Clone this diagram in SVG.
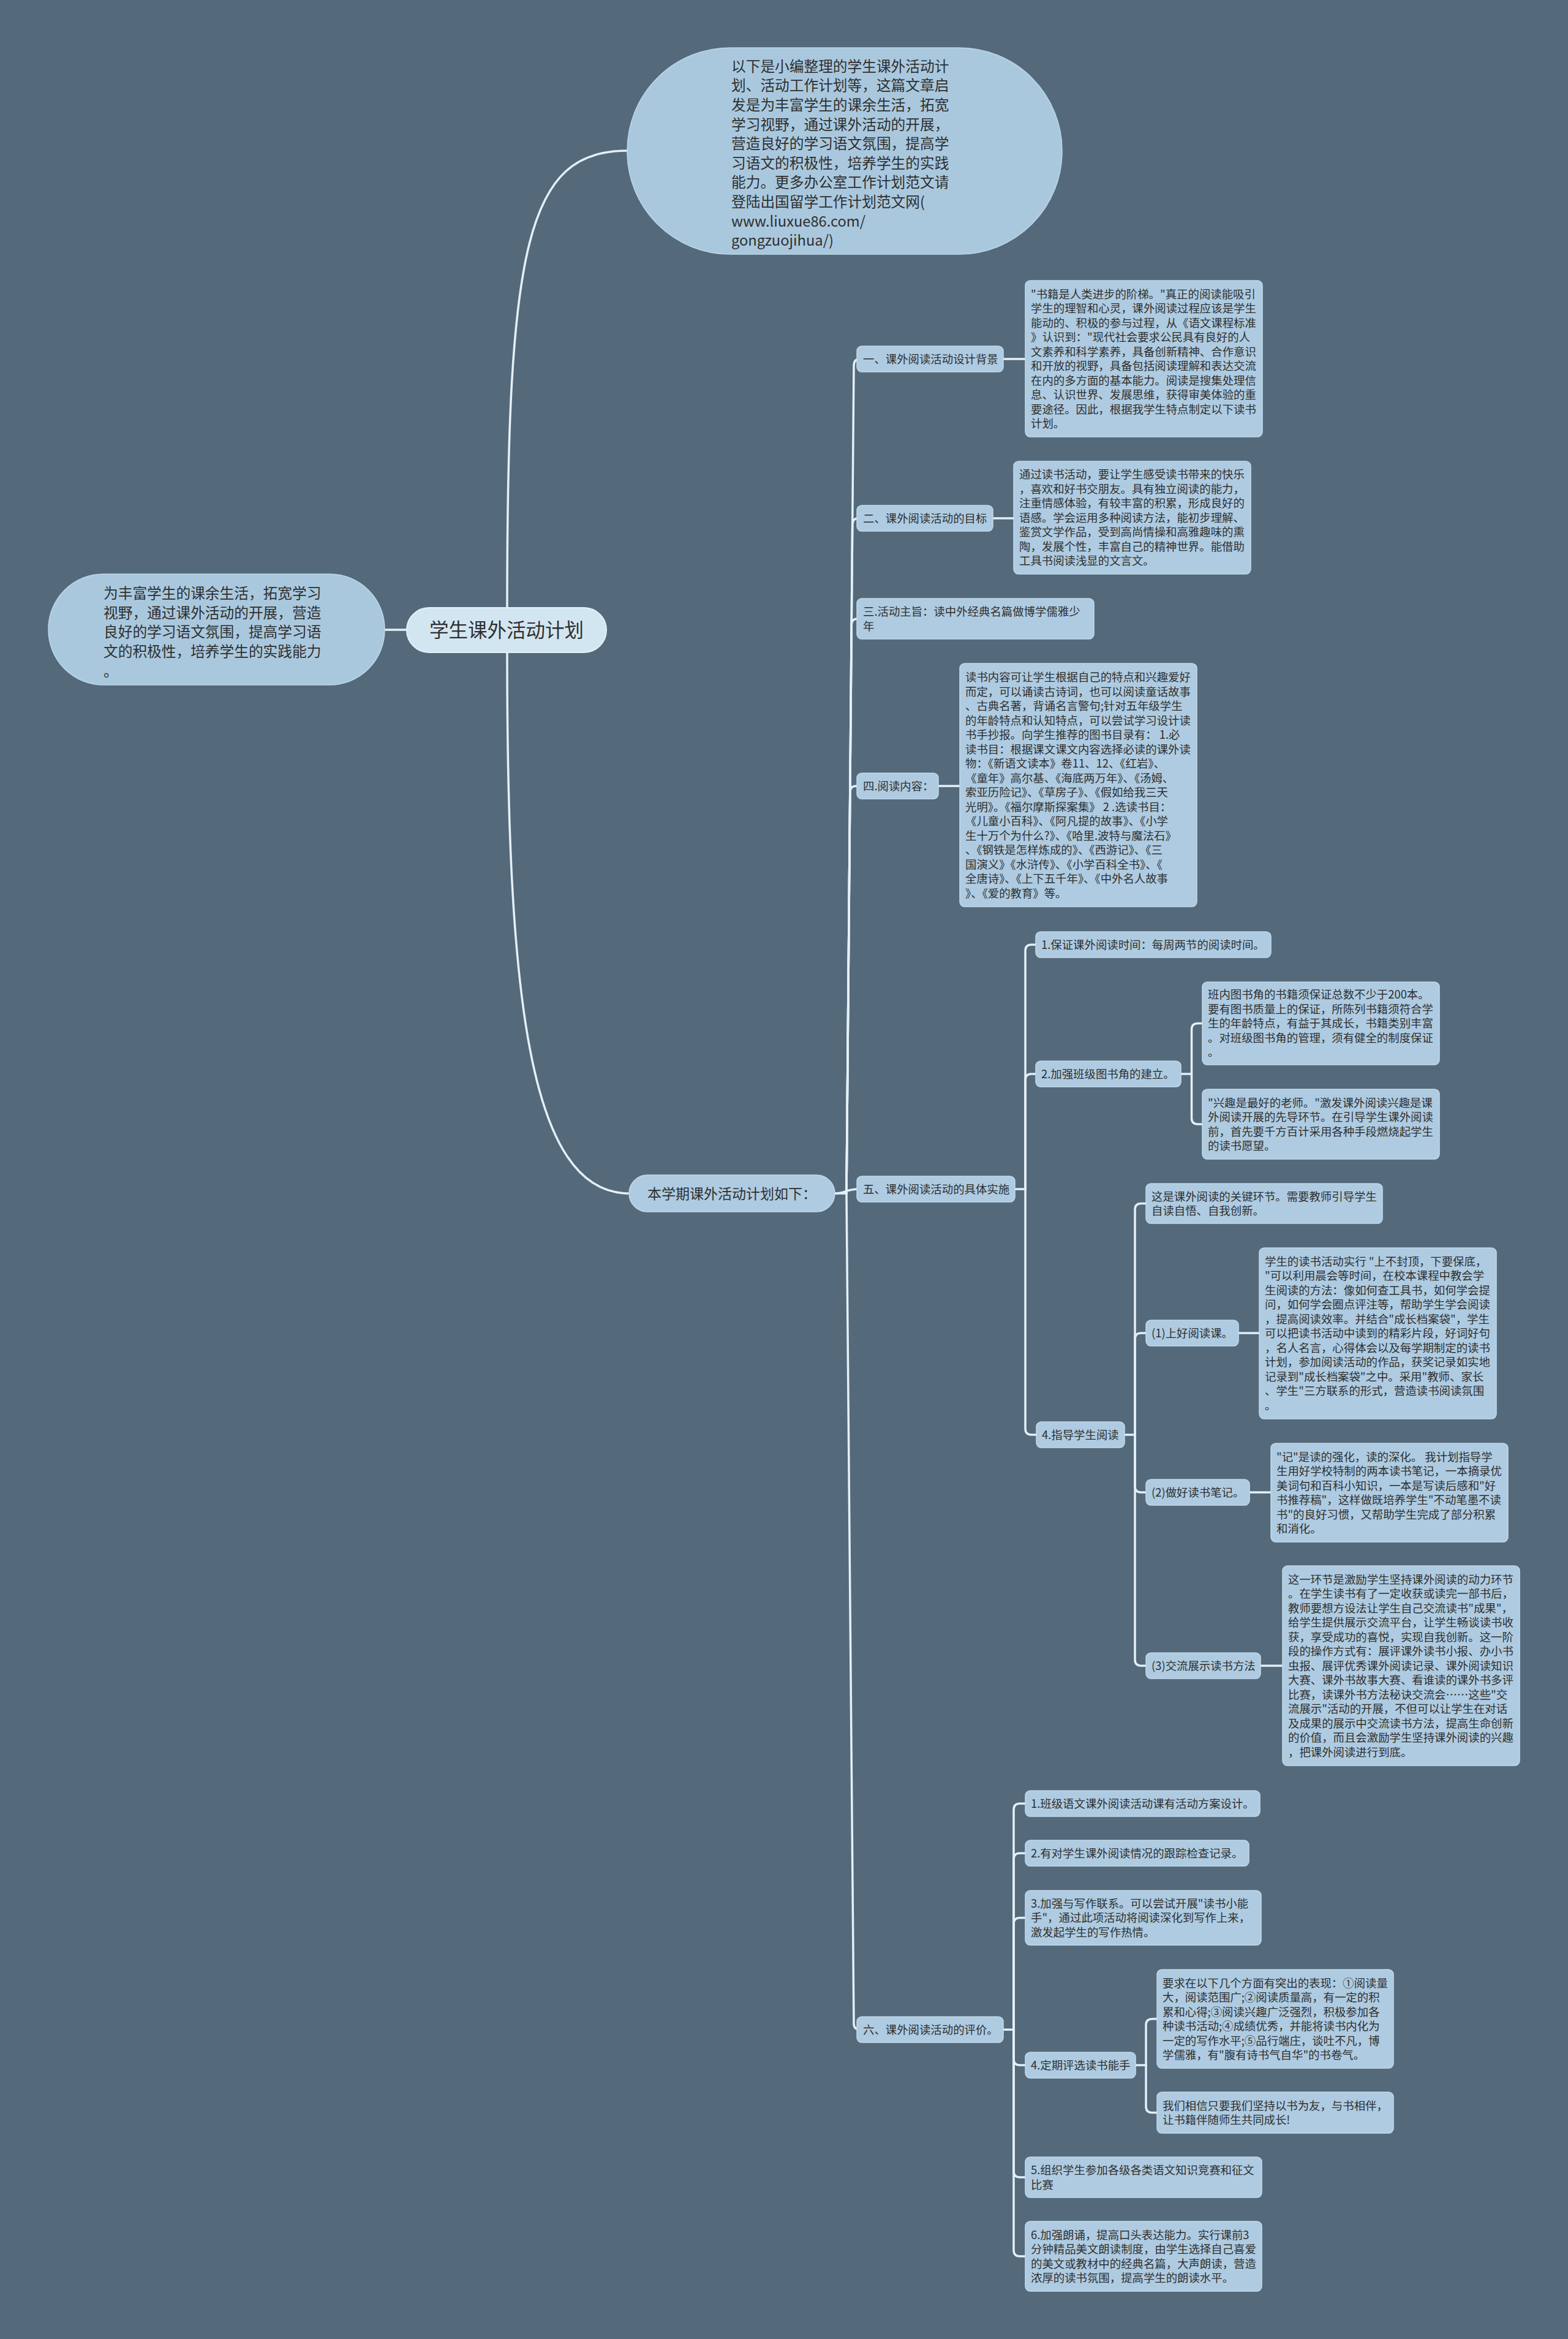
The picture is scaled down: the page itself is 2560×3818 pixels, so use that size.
<svg xmlns="http://www.w3.org/2000/svg" width="2560" height="3818" viewBox="0 0 2560 3818">
<style>
.c{fill:none;stroke:#e4f0f8;stroke-width:3.5;stroke-linecap:round}
.box{fill:#aecbe1;stroke:#c2d9ea;stroke-width:1.5}
.bub{fill:#a9c8de;stroke:#bcd6e8;stroke-width:1.5}
.root{fill:#d2e6f2;stroke:#e3f0f8;stroke-width:2}
text{font-family:"Noto Sans CJK SC","Noto Sans",sans-serif;fill:#2f2f2f}
.s{font-size:18.4px}
.m{font-size:23.7px}
</style>
<rect width="2560" height="3818" fill="#546a7b"/>
<g id="connectors">
<path class="c" d="M628 1028 H664"/>
<path class="c" d="M828 992 C828 400 860 246 1024 246"/>
<path class="c" d="M828 1065 C828 1620 862 1948 1027 1948"/>
<path class="c" d="M1363 1948 H1382"/>
<path class="c" d="M1382 1948 L1394 597 Q1394 586 1404 586"/>
<path class="c" d="M1382 1948 L1391.7 856 Q1391.8 846 1401.8 846"/>
<path class="c" d="M1382 1948 L1390.2 1020 Q1390.3 1010 1400.3 1010"/>
<path class="c" d="M1382 1948 L1387.8 1293 Q1387.9 1283 1397.9 1283 H1401"/>
<path class="c" d="M1363 1948 C1380 1948 1382 1941 1401 1941"/>
<path class="c" d="M1382 1948 L1394 3303 Q1394 3313 1404 3313"/>
<path class="c" d="M1638 586 H1674"/>
<path class="c" d="M1621 846 H1655"/>
<path class="c" d="M1532 1283 H1567"/>
<path class="c" d="M1657 1941 H1674"/>
<path class="c" d="M1674 1941 V1552 Q1674 1542 1684 1542 H1692"/>
<path class="c" d="M1674 1941 V1763 Q1674 1753 1684 1753 H1692"/>
<path class="c" d="M1674 1941 V2332 Q1674 2342 1684 2342 H1693"/>
<path class="c" d="M1928 1753 H1945.5"/>
<path class="c" d="M1945.5 1753 V1680.5 Q1945.5 1670.5 1955.5 1670.5 H1964"/>
<path class="c" d="M1945.5 1753 V1825 Q1945.5 1835 1955.5 1835 H1964"/>
<path class="c" d="M1836 2342 H1853"/>
<path class="c" d="M1853 2342 V1974.5 Q1853 1964.5 1863 1964.5 H1872"/>
<path class="c" d="M1853 2342 V2186 Q1853 2176 1863 2176 H1872"/>
<path class="c" d="M1853 2342 V2426 Q1853 2436 1863 2436 H1872"/>
<path class="c" d="M1853 2342 V2709 Q1853 2719 1863 2719 H1872"/>
<path class="c" d="M2022 2176 H2056"/>
<path class="c" d="M2040 2436 H2075"/>
<path class="c" d="M2058 2719 H2094"/>
<path class="c" d="M1638 3313 H1655"/>
<path class="c" d="M1655 3313 V2954 Q1655 2944 1665 2944 H1675"/>
<path class="c" d="M1655 3313 V3035 Q1655 3025 1665 3025 H1675"/>
<path class="c" d="M1655 3313 V3140.5 Q1655 3130.5 1665 3130.5 H1675"/>
<path class="c" d="M1655 3313 V3361 Q1655 3371 1665 3371 H1675"/>
<path class="c" d="M1655 3313 V3544 Q1655 3554 1665 3554 H1675"/>
<path class="c" d="M1655 3313 V3673 Q1655 3683 1665 3683 H1675"/>
<path class="c" d="M1854 3371 H1871"/>
<path class="c" d="M1871 3371 V3305.5 Q1871 3295.5 1881 3295.5 H1890"/>
<path class="c" d="M1871 3371 V3438.5 Q1871 3448.5 1881 3448.5 H1890"/>
</g>

<g id="n-root">
<rect class="root" x="664" y="992" width="326" height="73" rx="36.5"/>
<text x="827" y="1040" font-size="31.5" text-anchor="middle">学生课外活动计划</text>
</g>

<g id="n-left">
<rect class="bub" x="79" y="937" width="549" height="181" rx="90"/>
<text class="m" x="169" y="976.8"><tspan x="169">为丰富学生的课余生活，拓宽学习</tspan><tspan x="169" dy="31.7">视野，通过课外活动的开展，营造</tspan><tspan x="169" dy="31.7">良好的学习语文氛围，提高学习语</tspan><tspan x="169" dy="31.7">文的积极性，培养学生的实践能力</tspan><tspan x="169" dy="31.7">。</tspan></text>
</g>

<g id="n-intro">
<rect class="bub" x="1024" y="78" width="710" height="337" rx="168"/>
<text class="m" x="1194" y="116.8"><tspan x="1194">以下是小编整理的学生课外活动计</tspan><tspan x="1194" dy="31.6">划、活动工作计划等，这篇文章启</tspan><tspan x="1194" dy="31.6">发是为丰富学生的课余生活，拓宽</tspan><tspan x="1194" dy="31.6">学习视野，通过课外活动的开展，</tspan><tspan x="1194" dy="31.6">营造良好的学习语文氛围，提高学</tspan><tspan x="1194" dy="31.6">习语文的积极性，培养学生的实践</tspan><tspan x="1194" dy="31.6">能力。更多办公室工作计划范文请</tspan><tspan x="1194" dy="31.6">登陆出国留学工作计划范文网(</tspan><tspan x="1194" dy="31.6">www.liuxue86.com/</tspan><tspan x="1194" dy="31.6">gongzuojihua/)</tspan></text>
</g>

<g id="n-plan">
<rect class="box" x="1027" y="1918" width="336" height="60" rx="30"/>
<text x="1195" y="1956.5" font-size="23" text-anchor="middle">本学期课外活动计划如下：</text>
</g>

<g id="n-s1">
<rect class="box" x="1399" y="565" width="239" height="42" rx="8"/>
<text class="s" x="1409" y="592.8">一、课外阅读活动设计背景</text>
</g>
<g id="n-s1d">
<rect class="box" x="1674" y="458" width="387" height="255" rx="8"/>
<text class="s" x="1683" y="486.5"><tspan x="1683">"书籍是人类进步的阶梯。"真正的阅读能吸引</tspan><tspan x="1683" dy="23.5">学生的理智和心灵，课外阅读过程应该是学生</tspan><tspan x="1683" dy="23.5">能动的、积极的参与过程，从《语文课程标准</tspan><tspan x="1683" dy="23.5">》认识到："现代社会要求公民具有良好的人</tspan><tspan x="1683" dy="23.5">文素养和科学素养，具备创新精神、合作意识</tspan><tspan x="1683" dy="23.5">和开放的视野，具备包括阅读理解和表达交流</tspan><tspan x="1683" dy="23.5">在内的多方面的基本能力。阅读是搜集处理信</tspan><tspan x="1683" dy="23.5">息、认识世界、发展思维，获得审美体验的重</tspan><tspan x="1683" dy="23.5">要途径。因此，根据我学生特点制定以下读书</tspan><tspan x="1683" dy="23.5">计划。</tspan></text>
</g>

<g id="n-s2">
<rect class="box" x="1399" y="825" width="222" height="42" rx="8"/>
<text class="s" x="1409" y="852.8">二、课外阅读活动的目标</text>
</g>
<g id="n-s2d">
<rect class="box" x="1655" y="753" width="387" height="184" rx="8"/>
<text class="s" x="1664" y="781.3"><tspan x="1664">通过读书活动，要让学生感受读书带来的快乐</tspan><tspan x="1664" dy="23.5">，喜欢和好书交朋友。具有独立阅读的能力，</tspan><tspan x="1664" dy="23.5">注重情感体验，有较丰富的积累，形成良好的</tspan><tspan x="1664" dy="23.5">语感。学会运用多种阅读方法，能初步理解、</tspan><tspan x="1664" dy="23.5">鉴赏文学作品，受到高尚情操和高雅趣味的熏</tspan><tspan x="1664" dy="23.5">陶，发展个性，丰富自己的精神世界。能借助</tspan><tspan x="1664" dy="23.5">工具书阅读浅显的文言文。</tspan></text>
</g>

<g id="n-s3">
<rect class="box" x="1399" y="977" width="387" height="66" rx="8"/>
<text class="s" x="1409" y="1005"><tspan x="1409">三.活动主旨：读中外经典名篇做博学儒雅少</tspan><tspan x="1409" dy="23.5">年</tspan></text>
</g>

<g id="n-s4">
<rect class="box" x="1399" y="1262" width="133" height="42" rx="8"/>
<text class="s" x="1409" y="1289.8">四.阅读内容：</text>
</g>
<g id="n-s4d">
<rect class="box" x="1567" y="1083" width="387" height="397" rx="8"/>
<text class="s" x="1576" y="1112"><tspan x="1576">读书内容可让学生根据自己的特点和兴趣爱好</tspan><tspan x="1576" dy="23.5">而定，可以诵读古诗词，也可以阅读童话故事</tspan><tspan x="1576" dy="23.5">、古典名著，背诵名言警句;针对五年级学生</tspan><tspan x="1576" dy="23.5">的年龄特点和认知特点，可以尝试学习设计读</tspan><tspan x="1576" dy="23.5">书手抄报。向学生推荐的图书目录有： 1.必</tspan><tspan x="1576" dy="23.5">读书目：根据课文课文内容选择必读的课外读</tspan><tspan x="1576" dy="23.5">物：《新语文读本》卷11、12、《红岩》、</tspan><tspan x="1576" dy="23.5">《童年》高尔基、《海底两万年》、《汤姆、</tspan><tspan x="1576" dy="23.5">索亚历险记》、《草房子》、《假如给我三天</tspan><tspan x="1576" dy="23.5">光明》。《福尔摩斯探案集》 2 .选读书目：</tspan><tspan x="1576" dy="23.5">《儿童小百科》、《阿凡提的故事》、《小学</tspan><tspan x="1576" dy="23.5">生十万个为什么?》、《哈里.波特与魔法石》</tspan><tspan x="1576" dy="23.5">、《钢铁是怎样炼成的》、《西游记》、《三</tspan><tspan x="1576" dy="23.5">国演义》《水浒传》、《小学百科全书》、《</tspan><tspan x="1576" dy="23.5">全唐诗》、《上下五千年》、《中外名人故事</tspan><tspan x="1576" dy="23.5">》、《爱的教育》等。</tspan></text>
</g>

<g id="n-s5">
<rect class="box" x="1399" y="1920" width="258" height="42" rx="8"/>
<text class="s" x="1409" y="1947.8">五、课外阅读活动的具体实施</text>
</g>
<g id="n-s5-1">
<rect class="box" x="1691" y="1521" width="384" height="42" rx="8"/>
<text class="s" x="1700" y="1548.8">1.保证课外阅读时间：每周两节的阅读时间。</text>
</g>
<g id="n-s5-2">
<rect class="box" x="1691" y="1732" width="237" height="42" rx="8"/>
<text class="s" x="1700" y="1759.8">2.加强班级图书角的建立。</text>
</g>
<g id="n-s5-2a">
<rect class="box" x="1963" y="1603" width="387" height="135" rx="8"/>
<text class="s" x="1972" y="1630.3"><tspan x="1972">班内图书角的书籍须保证总数不少于200本。</tspan><tspan x="1972" dy="23.5">要有图书质量上的保证，所陈列书籍须符合学</tspan><tspan x="1972" dy="23.5">生的年龄特点，有益于其成长，书籍类别丰富</tspan><tspan x="1972" dy="23.5">。对班级图书角的管理，须有健全的制度保证</tspan><tspan x="1972" dy="23.5">。</tspan></text>
</g>
<g id="n-s5-2b">
<rect class="box" x="1963" y="1778" width="387" height="114" rx="8"/>
<text class="s" x="1972" y="1806.5"><tspan x="1972">"兴趣是最好的老师。"激发课外阅读兴趣是课</tspan><tspan x="1972" dy="23.5">外阅读开展的先导环节。在引导学生课外阅读</tspan><tspan x="1972" dy="23.5">前，首先要千方百计采用各种手段燃烧起学生</tspan><tspan x="1972" dy="23.5">的读书愿望。</tspan></text>
</g>
<g id="n-s5-4">
<rect class="box" x="1692" y="2321" width="144" height="42" rx="8"/>
<text class="s" x="1701" y="2348.8">4.指导学生阅读</text>
</g>
<g id="n-s5-4a">
<rect class="box" x="1871" y="1932" width="386" height="65" rx="8"/>
<text class="s" x="1880" y="1959.5"><tspan x="1880">这是课外阅读的关键环节。需要教师引导学生</tspan><tspan x="1880" dy="23.5">自读自悟、自我创新。</tspan></text>
</g>
<g id="n-s5-4-1">
<rect class="box" x="1871" y="2155" width="151" height="42" rx="8"/>
<text class="s" x="1880" y="2182.8">(1)上好阅读课。</text>
</g>
<g id="n-s5-4-1d">
<rect class="box" x="2056" y="2037" width="387" height="279" rx="8"/>
<text class="s" x="2065" y="2065.8"><tspan x="2065">学生的读书活动实行 "上不封顶，下要保底，</tspan><tspan x="2065" dy="23.5">"可以利用晨会等时间，在校本课程中教会学</tspan><tspan x="2065" dy="23.5">生阅读的方法：像如何查工具书，如何学会提</tspan><tspan x="2065" dy="23.5">问，如何学会圈点评注等，帮助学生学会阅读</tspan><tspan x="2065" dy="23.5">，提高阅读效率。并结合"成长档案袋"，学生</tspan><tspan x="2065" dy="23.5">可以把读书活动中读到的精彩片段，好词好句</tspan><tspan x="2065" dy="23.5">，名人名言，心得体会以及每学期制定的读书</tspan><tspan x="2065" dy="23.5">计划，参加阅读活动的作品，获奖记录如实地</tspan><tspan x="2065" dy="23.5">记录到"成长档案袋"之中。采用"教师、家长</tspan><tspan x="2065" dy="23.5">、学生"三方联系的形式，营造读书阅读氛围</tspan><tspan x="2065" dy="23.5">。</tspan></text>
</g>
<g id="n-s5-4-2">
<rect class="box" x="1871" y="2415" width="169" height="42" rx="8"/>
<text class="s" x="1880" y="2442.8">(2)做好读书笔记。</text>
</g>
<g id="n-s5-4-2d">
<rect class="box" x="2075" y="2356" width="387" height="161" rx="8"/>
<text class="s" x="2084" y="2384.5"><tspan x="2084">"记"是读的强化，读的深化。 我计划指导学</tspan><tspan x="2084" dy="23.5">生用好学校特制的两本读书笔记，一本摘录优</tspan><tspan x="2084" dy="23.5">美词句和百科小知识，一本是写读后感和"好</tspan><tspan x="2084" dy="23.5">书推荐稿"，这样做既培养学生"不动笔墨不读</tspan><tspan x="2084" dy="23.5">书"的良好习惯，又帮助学生完成了部分积累</tspan><tspan x="2084" dy="23.5">和消化。</tspan></text>
</g>
<g id="n-s5-4-3">
<rect class="box" x="1871" y="2698" width="187" height="42" rx="8"/>
<text class="s" x="1880" y="2725.8">(3)交流展示读书方法</text>
</g>
<g id="n-s5-4-3d">
<rect class="box" x="2094" y="2556" width="387" height="326" rx="8"/>
<text class="s" x="2103" y="2584.8"><tspan x="2103">这一环节是激励学生坚持课外阅读的动力环节</tspan><tspan x="2103" dy="23.5">。在学生读书有了一定收获或读完一部书后，</tspan><tspan x="2103" dy="23.5">教师要想方设法让学生自己交流读书"成果"，</tspan><tspan x="2103" dy="23.5">给学生提供展示交流平台，让学生畅谈读书收</tspan><tspan x="2103" dy="23.5">获，享受成功的喜悦，实现自我创新。这一阶</tspan><tspan x="2103" dy="23.5">段的操作方式有：展评课外读书小报、办小书</tspan><tspan x="2103" dy="23.5">虫报、展评优秀课外阅读记录、课外阅读知识</tspan><tspan x="2103" dy="23.5">大赛、课外书故事大赛、看谁读的课外书多评</tspan><tspan x="2103" dy="23.5">比赛，读课外书方法秘诀交流会……这些"交</tspan><tspan x="2103" dy="23.5">流展示"活动的开展，不但可以让学生在对话</tspan><tspan x="2103" dy="23.5">及成果的展示中交流读书方法，提高生命创新</tspan><tspan x="2103" dy="23.5">的价值，而且会激励学生坚持课外阅读的兴趣</tspan><tspan x="2103" dy="23.5">，把课外阅读进行到底。</tspan></text>
</g>

<g id="n-s6">
<rect class="box" x="1399" y="3292" width="239" height="42" rx="8"/>
<text class="s" x="1409" y="3319.8">六、课外阅读活动的评价。</text>
</g>
<g id="n-s6-1">
<rect class="box" x="1674" y="2923" width="383" height="42" rx="8"/>
<text class="s" x="1683" y="2950.8">1.班级语文课外阅读活动课有活动方案设计。</text>
</g>
<g id="n-s6-2">
<rect class="box" x="1674" y="3004" width="365" height="42" rx="8"/>
<text class="s" x="1683" y="3031.8">2.有对学生课外阅读情况的跟踪检查记录。</text>
</g>
<g id="n-s6-3">
<rect class="box" x="1674" y="3086" width="385" height="89" rx="8"/>
<text class="s" x="1683" y="3113.8"><tspan x="1683">3.加强与写作联系。可以尝试开展"读书小能</tspan><tspan x="1683" dy="23.5">手"，通过此项活动将阅读深化到写作上来，</tspan><tspan x="1683" dy="23.5">激发起学生的写作热情。</tspan></text>
</g>
<g id="n-s6-4">
<rect class="box" x="1674" y="3350" width="180" height="42" rx="8"/>
<text class="s" x="1683" y="3377.8">4.定期评选读书能手</text>
</g>
<g id="n-s6-4a">
<rect class="box" x="1889" y="3215" width="386" height="161" rx="8"/>
<text class="s" x="1898" y="3243.5"><tspan x="1898">要求在以下几个方面有突出的表现：①阅读量</tspan><tspan x="1898" dy="23.5">大，阅读范围广;②阅读质量高，有一定的积</tspan><tspan x="1898" dy="23.5">累和心得;③阅读兴趣广泛强烈，积极参加各</tspan><tspan x="1898" dy="23.5">种读书活动;④成绩优秀，并能将读书内化为</tspan><tspan x="1898" dy="23.5">一定的写作水平;⑤品行端庄，谈吐不凡，博</tspan><tspan x="1898" dy="23.5">学儒雅，有"腹有诗书气自华"的书卷气。</tspan></text>
</g>
<g id="n-s6-4b">
<rect class="box" x="1889" y="3415" width="386" height="67" rx="8"/>
<text class="s" x="1898" y="3443.5"><tspan x="1898">我们相信只要我们坚持以书为友，与书相伴，</tspan><tspan x="1898" dy="23.5">让书籍伴随师生共同成长!</tspan></text>
</g>
<g id="n-s6-5">
<rect class="box" x="1674" y="3521" width="386" height="66" rx="8"/>
<text class="s" x="1683" y="3549"><tspan x="1683">5.组织学生参加各级各类语文知识竞赛和征文</tspan><tspan x="1683" dy="23.5">比赛</tspan></text>
</g>
<g id="n-s6-6">
<rect class="box" x="1674" y="3626" width="386" height="114" rx="8"/>
<text class="s" x="1683" y="3654.5"><tspan x="1683">6.加强朗诵，提高口头表达能力。实行课前3</tspan><tspan x="1683" dy="23.5">分钟精品美文朗读制度，由学生选择自己喜爱</tspan><tspan x="1683" dy="23.5">的美文或教材中的经典名篇，大声朗读，营造</tspan><tspan x="1683" dy="23.5">浓厚的读书氛围，提高学生的朗读水平。</tspan></text>
</g>
</svg>
